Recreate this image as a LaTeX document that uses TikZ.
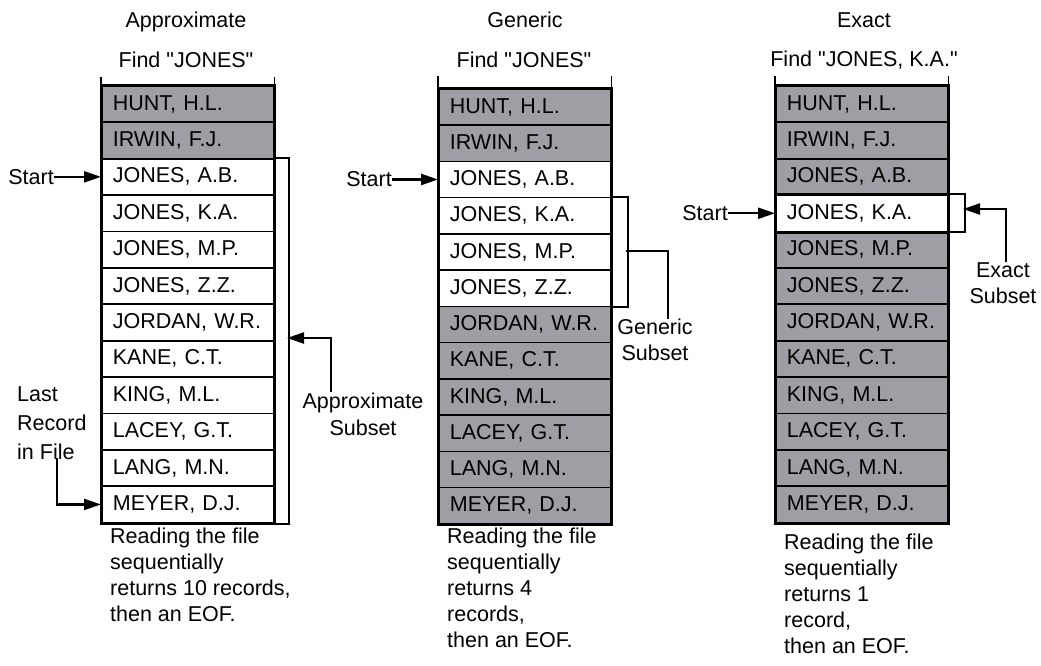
\documentclass[tikz,border=0pt]{standalone}
\usepackage{fontspec}
\setmainfont{Liberation Sans}[Ligatures=TeXOff]
\usetikzlibrary{arrows.meta}
\definecolor{recgray}{RGB}{158,158,164}
\begin{document}
\begin{tikzpicture}[x=1pt,y=-1pt,
  rec/.style={draw, line width=1.7pt, minimum width=172pt, minimum height=36.4pt,
    text width=150pt, inner xsep=11pt, inner ysep=0pt, align=left, anchor=north west,
    font=\fontsize{21.5}{24}\selectfont},
  lbl/.style={font=\fontsize{21.5}{27}\selectfont, align=center, inner sep=0pt},
  body/.style={font=\fontsize{21.5}{26}\selectfont, align=left, inner sep=0pt, anchor=north west},
  arr/.style={line width=2.3pt, -{Triangle[length=17pt,width=11pt]}},
  brk/.style={line width=2pt},
  frame/.style={line width=2.3pt},
  tick/.style={line width=1.5pt}]
\useasboundingbox (0,0) rectangle (1041,665);
\def\names{{HUNT, H.L.},{IRWIN, F.J.},{JONES, A.B.},{JONES, K.A.},{JONES, M.P.},{JONES, Z.Z.},{JORDAN, W.R.},{KANE, C.T.},{KING, M.L.},{LACEY, G.T.},{LANG, M.N.},{MEYER, D.J.}}

% ---------- Approximate ----------
\node[lbl] (hA) at (186,22) {Approximate};
\node[lbl] (fA) at (186,60) {Find "JONES"};
\foreach \n [count=\i] in \names {
  \ifnum\i<3 \def\f{recgray}\else\def\f{white}\fi
  \node[rec, fill=\f] (a\i) at (101,{85+(\i-1)*36.4}) {\n};
}
\draw[frame] (a1.north west) rectangle (a12.south east);
\draw[tick] (a1.north west) -- ++(0,-8);
\draw[tick] (a1.north east) -- ++(0,-8);
\node[lbl, anchor=east, xshift=-47pt] (sA) at (a3.west) {Start};
\draw[arr] (sA.east) -- (a3.west);
\node[lbl, font=\fontsize{21.5}{29}\selectfont, align=left, anchor=north west] (lr) at (17,386) {Last\\Record\\in File};
\coordinate (lrS) at (57,458);
\draw[arr] (lrS) |- (a12.west);
\draw[brk] (a3.north east) -- ++(14,0) |- (a12.south east);
\coordinate (bA) at (287,338);
\node[lbl] (lA) at (363,414) {Approximate\\Subset};
\draw[arr] ([xshift=-32pt]lA.north) |- (bA);
\node[body] (tA) at (110,528) {Reading the file\\sequentially\\returns 10 records,\\then an EOF.};

% ---------- Generic ----------
\node[lbl] (hG) at (525,20) {Generic};
\node[lbl] (fG) at (524,60) {Find "JONES"};
\foreach \n [count=\i] in \names {
  \def\f{white}
  \ifnum\i<3 \def\f{recgray}\fi
  \ifnum\i>6 \def\f{recgray}\fi
  \node[rec, fill=\f, minimum height=36.25pt] (g\i) at (438,{88+(\i-1)*36.25}) {\n};
}
\draw[frame] (g1.north west) rectangle (g12.south east);
\draw[tick] (g1.north west) -- ++(0,-12);
\draw[tick] (g1.north east) -- ++(0,-12);
\node[lbl, anchor=east, xshift=-46pt] (sG) at (g3.west) {Start};
\draw[arr] (sG.east) -- (g3.west);
\draw[brk] (g4.north east) -- ++(16,0) |- (g6.south east);
\coordinate (bG) at (626,251);
\node[lbl, font=\fontsize{21.5}{26}\selectfont] (lG) at (655,340) {Generic\\Subset};
\draw[brk] (bG) -| ([xshift=13pt]lG.north);
\node[body] (tG) at (447,528) {Reading the file\\sequentially\\returns 4\\records,\\then an EOF.};

% ---------- Exact ----------
\node[lbl] (hE) at (864,20) {Exact};
\node[lbl] (fE) at (864,60) {Find "JONES, K.A."};
\foreach \n [count=\i] in \names {
  \ifnum\i=4 \def\f{white}\else\def\f{recgray}\fi
  \node[rec, fill=\f] (e\i) at (775,{85+(\i-1)*36.4}) {\n};
}
\draw[frame] (e1.north west) rectangle (e12.south east);
\draw[tick] (e1.north west) -- ++(0,-9);
\draw[tick] (e1.north east) -- ++(0,-9);
\draw[line width=2.5pt] (e4.north west) rectangle (e4.south east);
\node[lbl, anchor=east, xshift=-47pt] (sE) at (e4.west) {Start};
\draw[arr] (sE.east) -- (e4.west);
\draw[brk] (e4.north east) -- ++(16,0) |- (e4.south east);
\coordinate (bE) at (963,209);
\node[lbl, font=\fontsize{21.5}{26}\selectfont] (lE) at (1003,283) {Exact\\Subset};
\draw[arr] ([xshift=3pt]lE.north) |- (bE);
\node[body] (tE) at (784,534) {Reading the file\\sequentially\\returns 1\\record,\\then an EOF.};
\end{tikzpicture}
\end{document}
